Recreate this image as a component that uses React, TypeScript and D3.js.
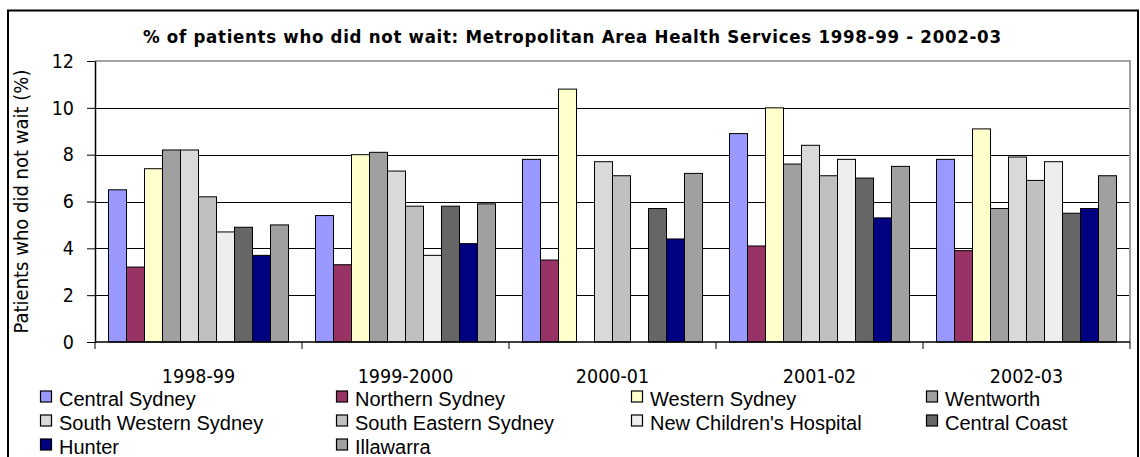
import React, { useRef, useEffect } from "react";
import * as d3 from "d3";

// categories and tick labels
const categories = ["1998-99", "1999-2000", "2000-01", "2001-02", "2002-03"];
const yTicks = [0, 2, 4, 6, 8, 10, 12];

// one array per area health service (values in %), null = no bar
const centralSydney = [6.5, 5.4, 7.8, 8.9, 7.8];
const northernSydney = [3.2, 3.3, 3.5, 4.1, 3.9];
const westernSydney = [7.4, 8.0, 10.8, 10.0, 9.1];
const wentworth = [8.2, 8.1, null, 7.6, 5.7];
const southWesternSydney = [8.2, 7.3, 7.7, 8.4, 7.9];
const southEasternSydney = [6.2, 5.8, 7.1, 7.1, 6.9];
const newChildrensHospital = [4.7, 3.7, null, 7.8, 7.7];
const centralCoast = [4.9, 5.8, 5.7, 7.0, 5.5];
const hunter = [3.7, 4.2, 4.4, 5.3, 5.7];
const illawarra = [5.0, 5.9, 7.2, 7.5, 7.1];

const seriesNames = [
  "Central Sydney",
  "Northern Sydney",
  "Western Sydney",
  "Wentworth",
  "South Western Sydney",
  "South Eastern Sydney",
  "New Children's Hospital",
  "Central Coast",
  "Hunter",
  "Illawarra",
];
const seriesValues = [
  centralSydney,
  northernSydney,
  westernSydney,
  wentworth,
  southWesternSydney,
  southEasternSydney,
  newChildrensHospital,
  centralCoast,
  hunter,
  illawarra,
];
const seriesColors = [
  "#9999FF",
  "#993366",
  "#FFFFCC",
  "#A0A0A0",
  "#D9D9D9",
  "#C0C0C0",
  "#EEEEEE",
  "#666666",
  "#000080",
  "#A0A0A0",
];

const title =
  "% of patients who did not wait:  Metropolitan Area Health Services 1998-99 - 2002-03";
const yTitle = "Patients who did not wait (%)";

const tahoma = "'DejaVu Sans Condensed', 'DejaVu Sans', sans-serif";
const arial = "'Liberation Sans', Arial, sans-serif";

const App = () => {
  const svgRef = useRef<SVGSVGElement>(null);

  useEffect(() => {
    const svg = d3.select(svgRef.current);
    svg.selectAll("*").remove();

    const W = 1140,
      H = 457;
    const plot = { left: 95, right: 1130, top: 61, bottom: 342 };

    const x = d3
      .scaleBand()
      .domain(categories)
      .range([plot.left, plot.right])
      .paddingInner(0)
      .paddingOuter(0);
    // excel gap width 150% -> 0.75 bar on each side
    const xs = d3
      .scaleBand()
      .domain(seriesNames)
      .range([0, x.bandwidth()])
      .paddingInner(0)
      .paddingOuter(0.75);
    const y = d3.scaleLinear().domain([0, 12]).range([plot.bottom, plot.top]);

    svg.append("rect").attr("width", W).attr("height", H).attr("fill", "#fff");

    // chart frame
    svg
      .append("rect")
      .attr("x", 8)
      .attr("y", 10.5)
      .attr("width", 1130)
      .attr("height", 480)
      .attr("fill", "none")
      .attr("stroke", "#000")
      .attr("stroke-width", 2);

    // title
    svg
      .append("text")
      .attr("x", 572)
      .attr("y", 36)
      .attr("text-anchor", "middle")
      .attr("dominant-baseline", "central")
      .attr("textLength", 858)
      .attr("lengthAdjust", "spacing")
      .style("font-family", tahoma)
      .style("font-weight", "bold")
      .style("font-size", "18.5px")
      .text(title);

    // gridlines
    svg
      .append("g")
      .selectAll("line")
      .data(yTicks.filter((v) => v > 0 && v < 12))
      .join("line")
      .attr("x1", plot.left)
      .attr("x2", plot.right)
      .attr("y1", (d) => Math.round(y(d)) + 0.5)
      .attr("y2", (d) => Math.round(y(d)) + 0.5)
      .attr("stroke", "#000")
      .attr("stroke-width", 1);

    // plot area border (top + right, grey)
    svg
      .append("path")
      .attr("d", `M${plot.left},${plot.top} H${plot.right} V${plot.bottom}`)
      .attr("fill", "none")
      .attr("stroke", "#A0A0A0")
      .attr("stroke-width", 2);

    // bars
    const groups = svg
      .append("g")
      .selectAll("g")
      .data(categories)
      .join("g")
      .attr("transform", (c) => `translate(${x(c)},0)`);

    groups
      .selectAll("rect")
      .data((c, ci) =>
        seriesNames
          .map((name, si) => ({ name, si, v: seriesValues[si][ci] }))
          .filter((d) => d.v !== null)
      )
      .join("rect")
      .attr("x", (d) => xs(d.name))
      .attr("y", (d) => y(d.v))
      .attr("width", xs.bandwidth())
      .attr("height", (d) => y(0) - y(d.v))
      .attr("fill", (d) => seriesColors[d.si])
      .attr("stroke", "#000")
      .attr("stroke-width", 1);

    // y axis
    const yAxis = svg
      .append("g")
      .attr("transform", `translate(${plot.left},0)`)
      .call(
        d3
          .axisLeft(y)
          .tickValues(yTicks)
          .tickSize(8)
          .tickSizeOuter(0)
          .tickPadding(13)
      );
    yAxis.selectAll("line").attr("stroke", "#000");
    yAxis.select(".domain").attr("stroke", "#000").attr("stroke-width", 1.5);
    yAxis
      .selectAll("text")
      .attr("fill", "#000")
      .style("font-family", tahoma)
      .style("font-size", "19.5px");

    // x axis line + boundary ticks
    svg
      .append("line")
      .attr("x1", plot.left)
      .attr("x2", plot.right)
      .attr("y1", y(0))
      .attr("y2", y(0))
      .attr("stroke", "#000")
      .attr("stroke-width", 1.5);
    const boundaries = [...categories.map((c) => x(c)), x.range()[1]];
    svg
      .append("g")
      .selectAll("line")
      .data(boundaries)
      .join("line")
      .attr("x1", (d) => d)
      .attr("x2", (d) => d)
      .attr("y1", y(0))
      .attr("y2", y(0) + 7)
      .attr("stroke", "#000")
      .attr("stroke-width", 1);

    // category labels
    svg
      .append("g")
      .selectAll("text")
      .data(categories)
      .join("text")
      .attr("x", (c) => x(c) + x.bandwidth() / 2)
      .attr("y", 376)
      .attr("text-anchor", "middle")
      .attr("dominant-baseline", "central")
      .style("font-family", tahoma)
      .style("font-size", "19.5px")
      .text((c) => c);

    // y axis title
    svg
      .append("text")
      .attr("transform", `translate(21,${(plot.top + plot.bottom) / 2}) rotate(-90)`)
      .attr("text-anchor", "middle")
      .attr("dominant-baseline", "central")
      .style("font-family", tahoma)
      .style("font-size", "20px")
      .text(yTitle);

    // legend, 4 columns
    const colX = [40, 336, 631, 926];
    const rowY = [397, 421, 445];
    const legend = svg
      .append("g")
      .selectAll("g")
      .data(seriesNames)
      .join("g")
      .attr(
        "transform",
        (d, i) => `translate(${colX[i % 4]},${rowY[Math.floor(i / 4)]})`
      );
    legend
      .append("rect")
      .attr("x", 0.5)
      .attr("y", -6)
      .attr("width", 11)
      .attr("height", 11)
      .attr("fill", (d, i) => seriesColors[i])
      .attr("stroke", "#000")
      .attr("stroke-width", 1.2);
    legend
      .append("text")
      .attr("x", 19)
      .attr("y", 2)
      .attr("dominant-baseline", "central")
      .style("font-family", arial)
      .style("font-size", "20px")
      .text((d) => d);
  }, []);

  return (
    <svg
      ref={svgRef}
      width={1140}
      height={457}
      style={{ position: "absolute", left: 0, top: 0, display: "block" }}
    ></svg>
  );
};

export default App;
